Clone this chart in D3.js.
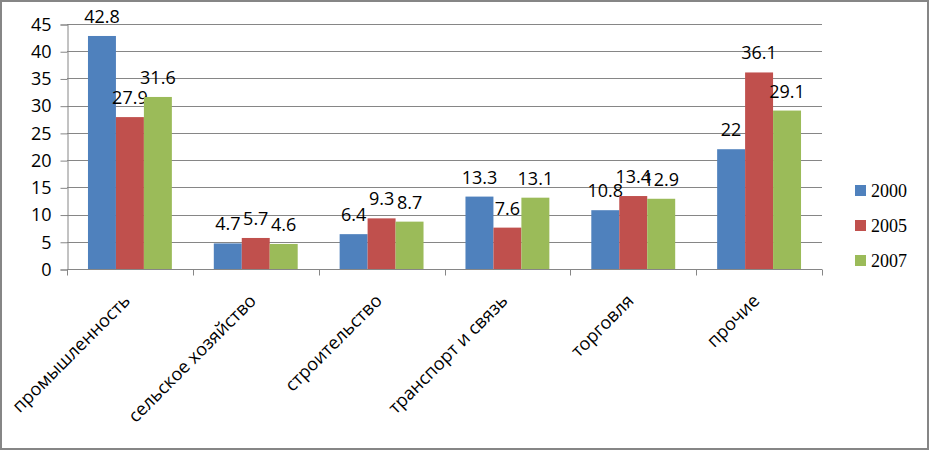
<!DOCTYPE html>
<html><head><meta charset="utf-8">
<script src="https://cdn.jsdelivr.net/npm/d3@7"></script>
<style>body{margin:0;background:#fff;}svg{display:block;}</style>
</head><body>
<script>
const categories = ["промышленность","сельское хозяйство","строительство","транспорт и связь","торговля","прочие"];
const seriesNames = ["2000","2005","2007"];
const values2000 = [42.8, 4.7, 6.4, 13.3, 10.8, 22];
const values2005 = [27.9, 5.7, 9.3, 7.6, 13.4, 36.1];
const values2007 = [31.6, 4.6, 8.7, 13.1, 12.9, 29.1];
const yTicks = [0,5,10,15,20,25,30,35,40,45];
const colors = ["#4F81BD","#C0504D","#9BBB59"];

(function(){
const series = [values2000, values2005, values2007];
const W = 931, H = 451;
const svg = d3.select("body").append("svg").attr("width", W).attr("height", H);

svg.append("rect").attr("x",1).attr("y",1).attr("width",927).attr("height",448)
  .attr("fill","#fff").attr("stroke","#868686").attr("stroke-width",2);

const pl = 67, pr = 822, pt = 24, pb = 269;
const x = d3.scaleBand().domain(categories).range([pl, pr]).padding(0);
const groupW = x.bandwidth() * 2 / 3;
const inner = d3.scaleBand().domain(seriesNames).range([0, x.bandwidth()]).paddingInner(0)
  .paddingOuter((x.bandwidth() - groupW) / 2 / (groupW / 3));
const y = d3.scaleLinear().domain([0,45]).range([pb, pt]);

// gridlines
svg.append("g").selectAll("line").data(yTicks.filter(d=>d>0)).join("line")
  .attr("x1", pl).attr("x2", pr).attr("y1", d=>Math.round(y(d))+0.5).attr("y2", d=>Math.round(y(d))+0.5)
  .attr("stroke","#868686").attr("stroke-width",1);

// y axis
const yAxis = d3.axisLeft(y).tickValues(yTicks).tickSize(7).tickPadding(9).tickFormat(d3.format("d"));
const gy = svg.append("g").attr("transform",`translate(${pl+0.5},0.5)`).call(yAxis);
gy.select(".domain").attr("stroke","#868686");
gy.selectAll(".tick line").attr("stroke","#868686");
gy.selectAll(".tick text").attr("font-family","'Open Sans', sans-serif").attr("font-size",18).attr("fill","#000");

// bars
const groups = svg.append("g").selectAll("g").data(seriesNames).join("g").attr("fill",(d,i)=>colors[i]);
groups.selectAll("rect").data((s,i)=>categories.map((c,j)=>({c, s, v: series[i][j]}))).join("rect")
  .attr("x", d=>x(d.c)+inner(d.s)).attr("width", inner.bandwidth())
  .attr("y", d=>y(d.v)).attr("height", d=>y(0)-y(d.v));

// x axis
const gx = svg.append("g").attr("transform",`translate(0,${pb+0.5})`);
gx.append("line").attr("x1",pl).attr("x2",pr).attr("stroke","#868686");
const bounds = categories.map(c=>x(c)).concat([pr]);
gx.selectAll("line.tk").data(bounds).join("line").attr("class","tk")
  .attr("x1",d=>Math.round(d)+0.5).attr("x2",d=>Math.round(d)+0.5).attr("y1",0).attr("y2",6).attr("stroke","#868686");
gx.selectAll("text").data(categories).join("text")
  .attr("transform", d=>`translate(${x(d)+x.bandwidth()/2-3},${28}) rotate(-45)`)
  .attr("text-anchor","end").attr("dy","0.35em")
  .attr("font-family","'Open Sans', sans-serif").attr("font-size",18).attr("fill","#000")
  .text(d=>d);

// data labels
groups.selectAll("text").data((s,i)=>categories.map((c,j)=>({c, s, v: series[i][j]}))).join("text")
  .attr("x", d=>x(d.c)+inner(d.s)+inner.bandwidth()/2).attr("y", d=>y(d.v)-13)
  .attr("text-anchor","middle").attr("fill","#000")
  .attr("font-family","'Open Sans', sans-serif").attr("font-size",18)
  .text(d=>d.v);

// legend
const lg = svg.append("g").selectAll("g").data(seriesNames).join("g")
  .attr("transform",(d,i)=>`translate(855,${191+i*35})`);
lg.append("rect").attr("x",0).attr("y",-6).attr("width",11).attr("height",11).attr("fill",(d,i)=>colors[i]);
lg.append("text").attr("x",16).attr("y",0).attr("dy","0.35em")
  .attr("font-family","'Liberation Serif', serif").attr("font-size",18).attr("fill","#000").text(d=>d);
})();
</script>
</body></html>
